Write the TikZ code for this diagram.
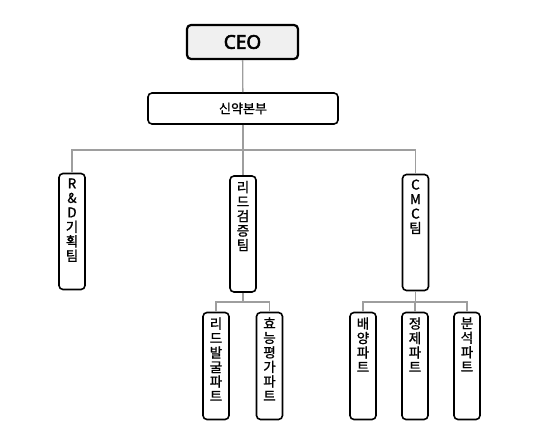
\documentclass[tikz,border=0pt]{standalone}
\usepackage{fontspec}
\setmainfont[FakeBold=1.2]{Noto Sans CJK KR}
\newfontfamily\ceofont[FakeBold=3]{Noto Sans}
\newcommand\vt[2]{\parbox[c][#1pt][t]{26pt}{\centering\fontsize{13.5}{14.5}\selectfont\vspace*{5pt}#2}}
\begin{document}
\begin{tikzpicture}[x=1pt,y=-1pt,
  box/.style={draw=black, line width=1.6pt, rounded corners=4pt, inner sep=0pt, fill=white},
  conn/.style={draw=black!38, line width=1.3pt}]
\useasboundingbox (0,0) rectangle (542,443);
\node[box, fill=black!6, line width=2.2pt, minimum width=111pt, minimum height=34pt] (ceo) at (242.5,42) {\ceofont\fontsize{19}{22}\selectfont CEO};
\node[box, minimum width=190pt, minimum height=31pt] (sinyak) at (243,108.5) {\fontsize{13}{15}\selectfont 신약본부};
% teams
\node[box] (rd) at (72,231.5) {\vt{116}{R\\\&\\D\\기\\획\\팀}};
\node[box] (lead) at (243,234) {\vt{116}{리\\드\\검\\증\\팀}};
\node[box] (cmc) at (415.5,232.5) {\vt{116}{C\\M\\C\\팀}};
% parts
\node[box] (p1) at (216,366) {\vt{107}{리\\드\\발\\굴\\파\\트}};
\node[box] (p2) at (269.5,366) {\vt{107}{효\\능\\평\\가\\파\\트}};
\node[box] (p3) at (363,366) {\vt{107}{배\\양\\파\\트}};
\node[box] (p4) at (415,366) {\vt{107}{정\\제\\파\\트}};
\node[box] (p5) at (467,366) {\vt{107}{분\\석\\파\\트}};
% connectors
\coordinate (bus1) at (0,150);
\coordinate (bus2) at (0,302);
\draw[conn] (ceo) -- (sinyak);
\draw[conn] (sinyak.south) -- (sinyak.south |- bus1) -| (rd.north);
\draw[conn] (sinyak.south) -- (sinyak.south |- bus1) -| (lead.north);
\draw[conn] (sinyak.south) -- (sinyak.south |- bus1) -| (cmc.north);
\draw[conn] (lead.south) -- (lead.south |- bus2) -| (p1.north);
\draw[conn] (lead.south) -- (lead.south |- bus2) -| (p2.north);
\draw[conn] (cmc.south) -- (cmc.south |- bus2) -| (p3.north);
\draw[conn] (cmc.south) -- (cmc.south |- bus2) -| (p4.north);
\draw[conn] (cmc.south) -- (cmc.south |- bus2) -| (p5.north);
\end{tikzpicture}
\end{document}
